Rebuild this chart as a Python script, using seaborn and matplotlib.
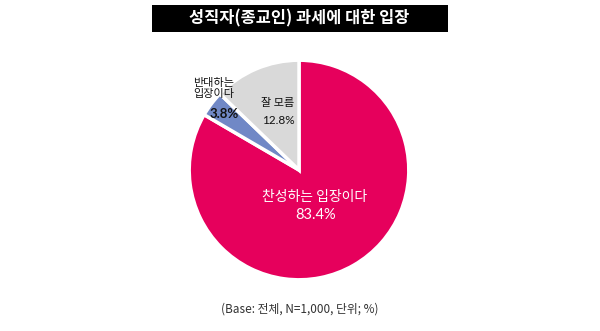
import matplotlib
matplotlib.use("Agg")
import matplotlib.pyplot as plt
import seaborn as sns
from matplotlib.patches import Rectangle

categories = ["찬성하는 입장이다", "반대하는 입장이다", "잘 모름"]
values = [83.4, 3.8, 12.8]
title = "성직자(종교인) 과세에 대한 입장"
footnote = "(Base: 전체, N=1,000, 단위; %)"

sns.set_theme(style="white")
plt.rcParams['font.family'] = ['Noto Sans CJK KR', 'DejaVu Sans']

colors = ["#E6005C", "#7088C6", "#D9D9D9"]

W, H = 600, 331
fig = plt.figure(figsize=(6, 3.31), dpi=100)
fig.patch.set_facecolor("white")

cx, cy, r = 299, 170, 112
ax = fig.add_axes([(cx - r) / W, 1 - (cy + r) / H, 2 * r / W, 2 * r / H])
ax.pie(values, colors=colors, startangle=90, counterclock=False,
       radius=1.0, wedgeprops=dict(edgecolor="white", linewidth=2.5))
ax.set_xlim(-1.02, 1.02)
ax.set_ylim(-1.02, 1.02)
ax.axis("off")

def px(x, y):
    return x / W, 1 - y / H

# title bar
x0, y0 = px(152, 32)
fig.patches.append(Rectangle((x0, y0), (448 - 152) / W, 27 / H,
                             transform=fig.transFigure, facecolor="black",
                             edgecolor="none", zorder=0))
fig.text(*px(299, 18.5), title, color="white", fontsize=11.8, fontweight="bold",
         ha="center", va="center")

# labels
fig.text(*px(214, 88.5), "반대하는\n입장이다", color="#111111", fontsize=8,
         ha="center", va="center", linespacing=1.1, fontweight="medium")
fig.text(*px(224, 114), f"{values[1]:.1f}%", color="#111111", fontsize=9.5,
         ha="center", va="center", family=["Lato", "DejaVu Sans"], fontweight="bold")
fig.text(*px(278, 103), categories[2], color="#111111", fontsize=8,
         ha="center", va="center", fontweight="medium")
fig.text(*px(278, 120), f"{values[2]:.1f}%", color="#111111", fontsize=8.5,
         ha="center", va="center", family=["Lato", "DejaVu Sans"])
fig.text(*px(315, 197.5), categories[0], color="white", fontsize=10,
         ha="center", va="center", fontweight="medium")
fig.text(*px(316, 215), f"{values[0]:.1f}%", color="white", fontsize=10.5,
         ha="center", va="center", family=["Lato", "DejaVu Sans"])

fig.text(*px(300, 309), footnote, color="#333333", fontsize=8.5,
         ha="center", va="center")

fig.savefig("out.png", dpi=100, facecolor="white")
